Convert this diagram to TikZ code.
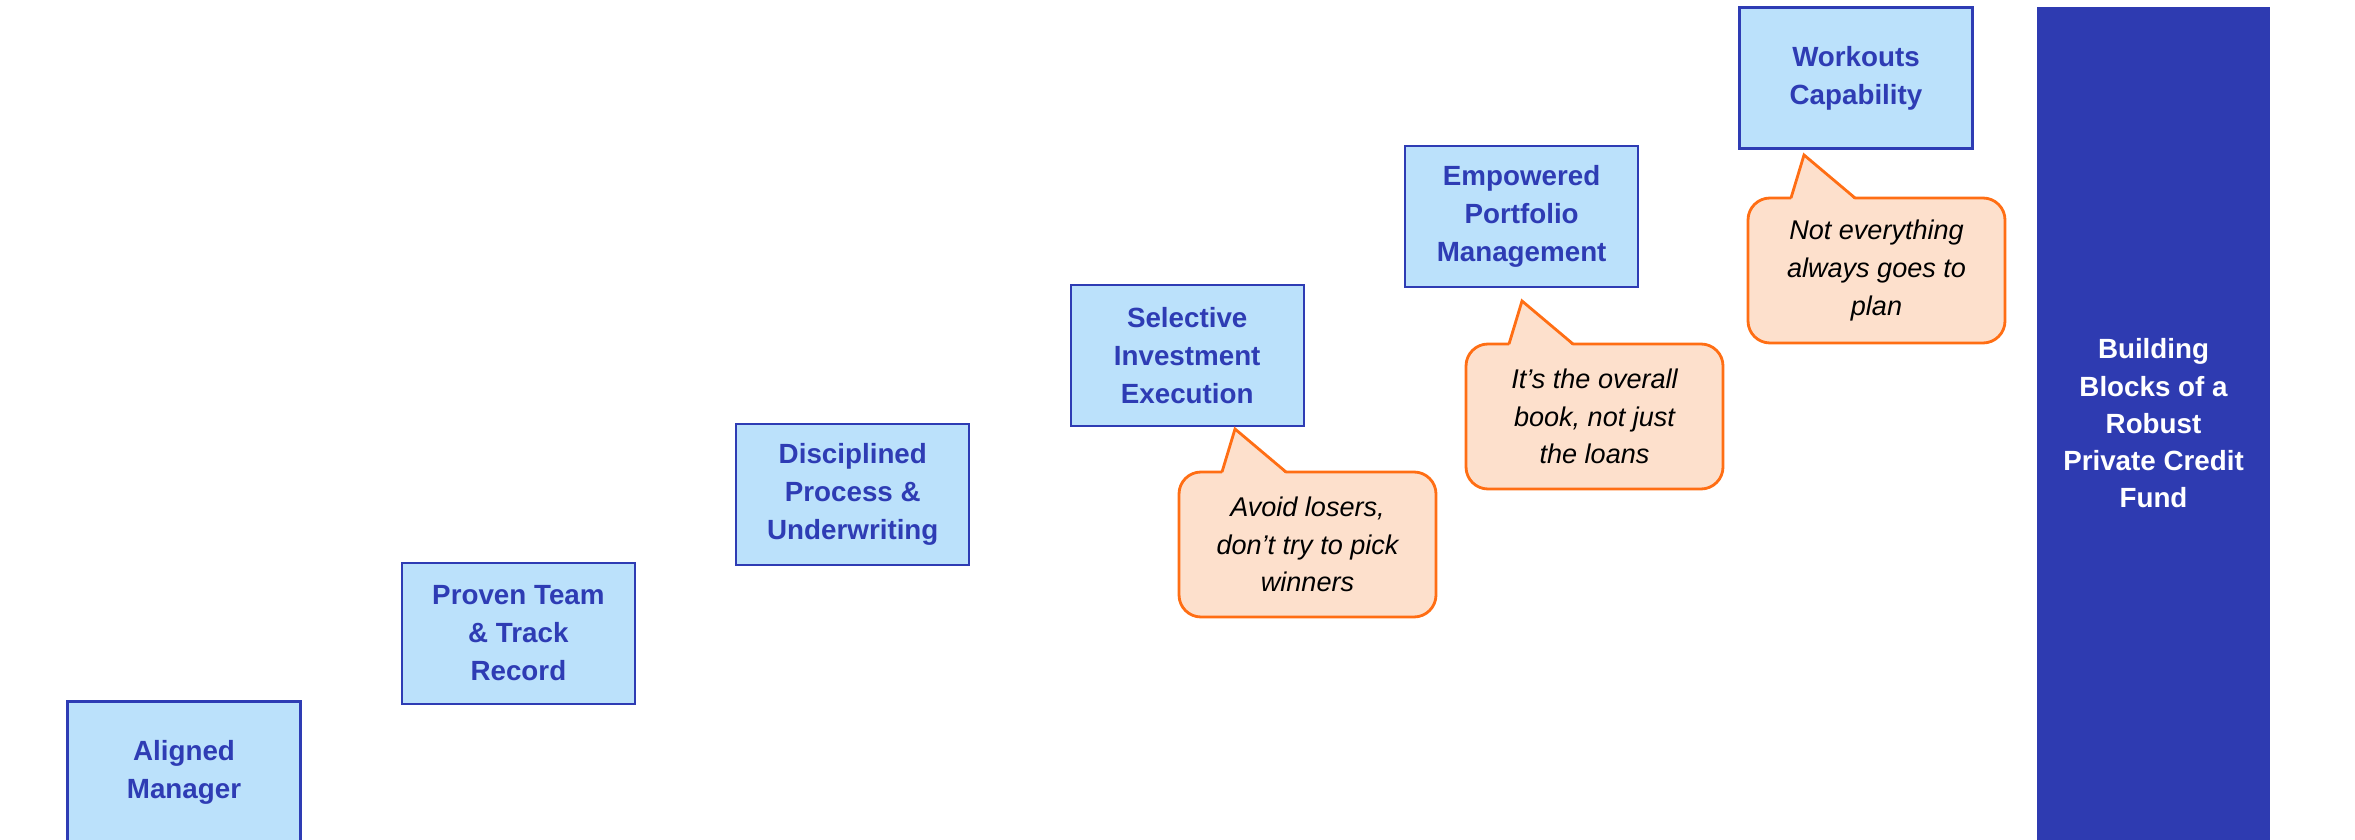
\documentclass[tikz,border=0pt]{standalone}
\usepackage{fontspec}
\setmainfont{Liberation Sans}
\definecolor{blockfill}{RGB}{187,225,251}
\definecolor{blockblue}{RGB}{46,60,180}
\definecolor{fundblue}{RGB}{46,59,177}
\definecolor{notefill}{RGB}{253,224,204}
\definecolor{noteline}{RGB}{255,110,20}
\tikzset{
    block/.style={draw=blockblue, line width=0.65pt, fill=blockfill, text=blockblue,
        minimum width=2.33cm, minimum height=1.41cm, inner sep=0pt, align=center,
        font=\fontsize{7.9}{10.8}\selectfont\bfseries},
    note/.style={draw=noteline, line width=0.8pt, fill=notefill, rounded corners=0.22cm,
        minimum width=2.57cm, minimum height=1.45cm, inner sep=0pt, outer sep=0pt,
        align=center, font=\fontsize{7.7}{10.7}\selectfont\itshape},
}

\begin{document}
\begin{tikzpicture}
    \useasboundingbox (0,0) rectangle (23.55,8.4);
    \foreach \i/\n/\t in {0/aligned/{Aligned\\Manager},
                          1/proven/{Proven Team\\\& Track\\Record},
                          2/disciplined/{Disciplined\\Process \&\\Underwriting},
                          3/selective/{Selective\\Investment\\Execution},
                          4/empowered/{Empowered\\Portfolio\\Management},
                          5/workouts/{Workouts\\Capability}}
        \node [block] (\n) at ({1.84+3.344*\i}, {0.68+1.388*\i}) {\t};

    \node [fill=fundblue, text=white, minimum width=2.33cm, minimum height=8.33cm,
        inner sep=0pt, align=center, font=\fontsize{7.9}{10.6}\selectfont\bfseries]
        (fund) at (21.535,4.165) {Building\\Blocks of a\\Robust\\Private Credit\\Fund};

    \node [note] (losers) at (13.075,2.955) {Avoid losers,\\don’t try to pick\\winners};
    \node [note] (book) at (15.945,4.235) {It’s the overall\\book, not just\\the loans};
    \node [note] (plan) at (18.765,5.695) {Not everything\\always goes to\\plan};
    \foreach \n in {losers,book,plan} {
        \fill [notefill] ([xshift=0.43cm,yshift=-0.6pt]\n.north west)
            -- ([xshift=0.56cm,yshift=0.43cm]\n.north west)
            -- ([xshift=1.07cm,yshift=-0.6pt]\n.north west) -- cycle;
        \draw [noteline, line width=0.8pt] ([xshift=0.43cm]\n.north west)
            -- ([xshift=0.56cm,yshift=0.43cm]\n.north west)
            -- ([xshift=1.07cm]\n.north west);
    }
\end{tikzpicture}
\end{document}
